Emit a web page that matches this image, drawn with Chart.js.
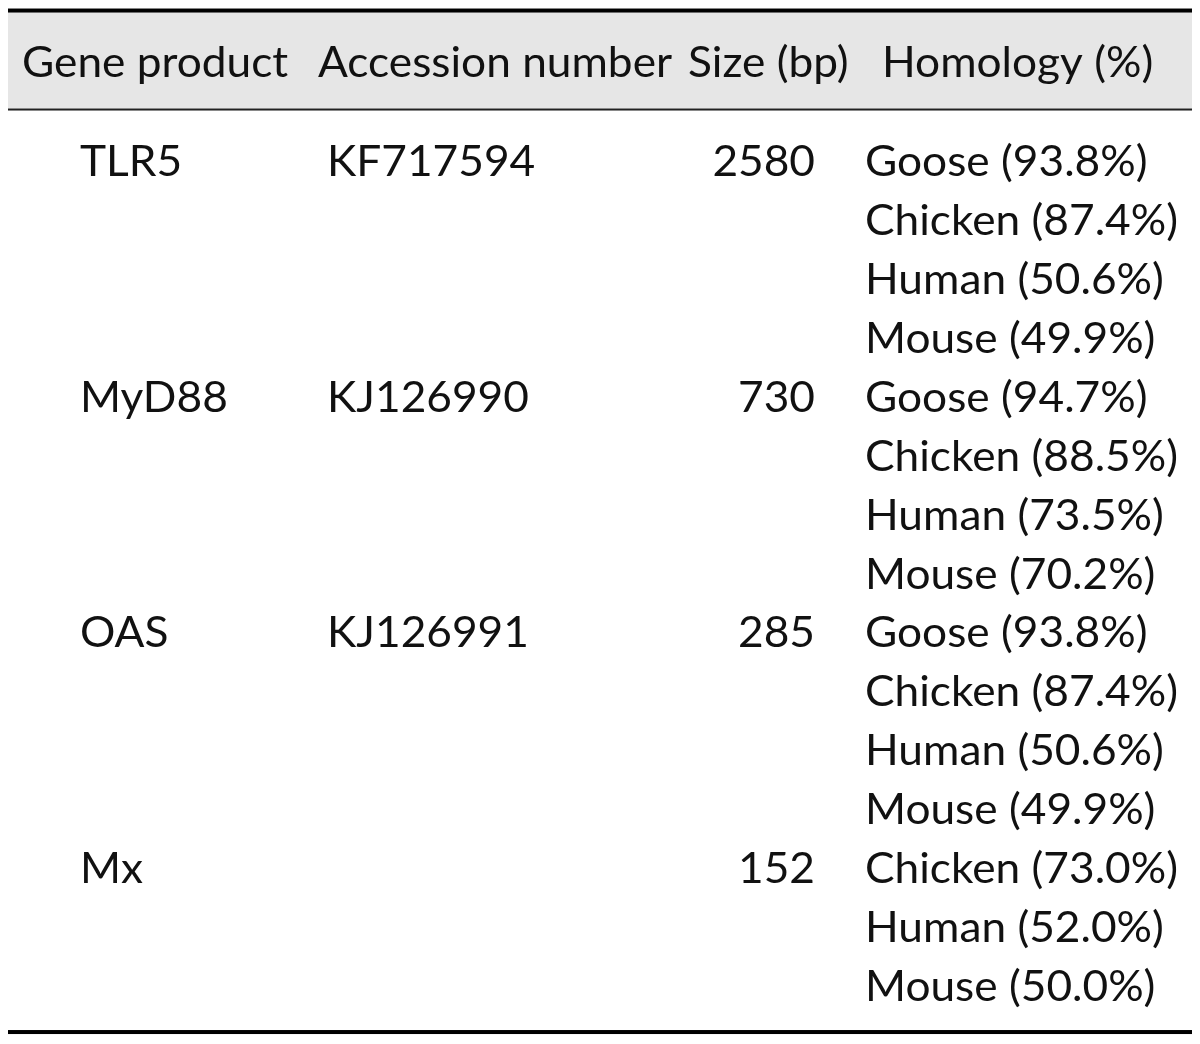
<!DOCTYPE html>
<html>
<head>
<meta charset="utf-8">
<script src="https://cdn.jsdelivr.net/npm/chart.js@4.4.1/dist/chart.umd.min.js"></script>
<style>
  html, body { margin: 0; padding: 0; background: #ffffff; }
  #wrap { width: 1200px; height: 1044px; position: relative; }
</style>
</head>
<body>
<div id="wrap"><canvas id="tableChart"></canvas></div>
<script>
// column headers
var headers = ['Gene product', 'Accession number', 'Size (bp)', 'Homology (%)'];

// one entry per gene product
var genes = ['TLR5', 'MyD88', 'OAS', 'Mx'];
var accessions = ['KF717594', 'KJ126990', 'KJ126991', ''];
var sizes = [2580, 730, 285, 152];

// homology for each gene, species + percent
var species = [
  ['Goose', 'Chicken', 'Human', 'Mouse'],
  ['Goose', 'Chicken', 'Human', 'Mouse'],
  ['Goose', 'Chicken', 'Human', 'Mouse'],
  ['Chicken', 'Human', 'Mouse']
];
var homology = [
  [93.8, 87.4, 50.6, 49.9],
  [94.7, 88.5, 73.5, 70.2],
  [93.8, 87.4, 50.6, 49.9],
  [73.0, 52.0, 50.0]
];

// layout (pixels on the x scale, row units on the y scale)
var colX = [80, 327, 815, 865];
var headX = [22, 318, 688, 882];
var headRow = -1.68;
var FONT = 'Lato';
var FSIZE = 43;

// build the points: each text cell is a point at (column, row)
var cells = [[], [], [], []];
var row = 0;
for (var g = 0; g < genes.length; g++) {
  cells[0].push({ x: colX[0], y: row, t: genes[g] });
  if (accessions[g] !== '') cells[1].push({ x: colX[1], y: row, t: accessions[g] });
  cells[2].push({ x: colX[2], y: row, t: String(sizes[g]) });
  for (var s = 0; s < species[g].length; s++) {
    cells[3].push({ x: colX[3], y: row, t: species[g][s] + ' (' + homology[g][s].toFixed(1) + '%)' });
    row++;
  }
}
var headCells = headers.map(function (h, i) { return { x: headX[i], y: headRow, t: h }; });
var aligns = ['left', 'left', 'right', 'left'];

var datasets = cells.map(function (c, i) {
  return { label: headers[i], data: c, pointRadius: 0, align: aligns[i] };
});
datasets.push({ label: 'header', data: headCells, pointRadius: 0, align: 'left' });

// draws rules, header band and the text of every cell
var tablePlugin = {
  id: 'tablePlugin',
  beforeDatasetsDraw: function (chart) {
    var ctx = chart.ctx;
    var x = chart.scales.x, y = chart.scales.y;
    var x0 = x.getPixelForValue(8), x1 = x.getPixelForValue(1192);
    var top = y.getPixelForValue(-2.808);
    var headLine = y.getPixelForValue(-1.128);
    var bottom = y.getPixelForValue(14.526);
    ctx.save();
    ctx.fillStyle = '#e6e6e6';
    ctx.fillRect(x0, top, x1 - x0, headLine - top);
    ctx.fillStyle = '#000';
    ctx.fillRect(x0, top - 2, x1 - x0, 4);
    ctx.fillStyle = '#222';
    ctx.fillRect(x0, headLine - 1, x1 - x0, 2);
    ctx.fillStyle = '#000';
    ctx.fillRect(x0, bottom - 2, x1 - x0, 4);
    ctx.restore();
  },
  afterDatasetsDraw: function (chart) {
    var ctx = chart.ctx;
    ctx.save();
    ctx.font = FSIZE + 'px ' + FONT;
    ctx.fillStyle = '#111';
    ctx.textBaseline = 'alphabetic';
    // squeeze the font horizontally to the widths of the original
    var sx = 313 / ctx.measureText('Chicken (87.4%)').width;
    chart.data.datasets.forEach(function (ds, di) {
      var meta = chart.getDatasetMeta(di);
      meta.data.forEach(function (pt, k) {
        var txt = ds.data[k].t;
        var w = ctx.measureText(txt).width * sx;
        var px = ds.align === 'right' ? pt.x - w : pt.x;
        ctx.save();
        ctx.translate(px, pt.y);
        ctx.scale(sx, 1);
        ctx.fillText(txt, 0, 0);
        ctx.restore();
      });
    });
    ctx.restore();
  }
};

var ctx = document.getElementById('tableChart').getContext('2d');
var myChart = new Chart(ctx, {
  type: 'scatter',
  data: { datasets: datasets },
  options: {
    responsive: true,
    maintainAspectRatio: false,
    animation: false,
    events: [],
    layout: { padding: 0 },
    plugins: { legend: { display: false }, tooltip: { enabled: false } },
    scales: {
      x: { type: 'linear', display: false, min: 0, max: 1200 },
      y: { type: 'linear', display: false, reverse: true, min: -2.9866, max: 14.729 }
    }
  },
  plugins: [tablePlugin]
});
</script>
</body>
</html>
